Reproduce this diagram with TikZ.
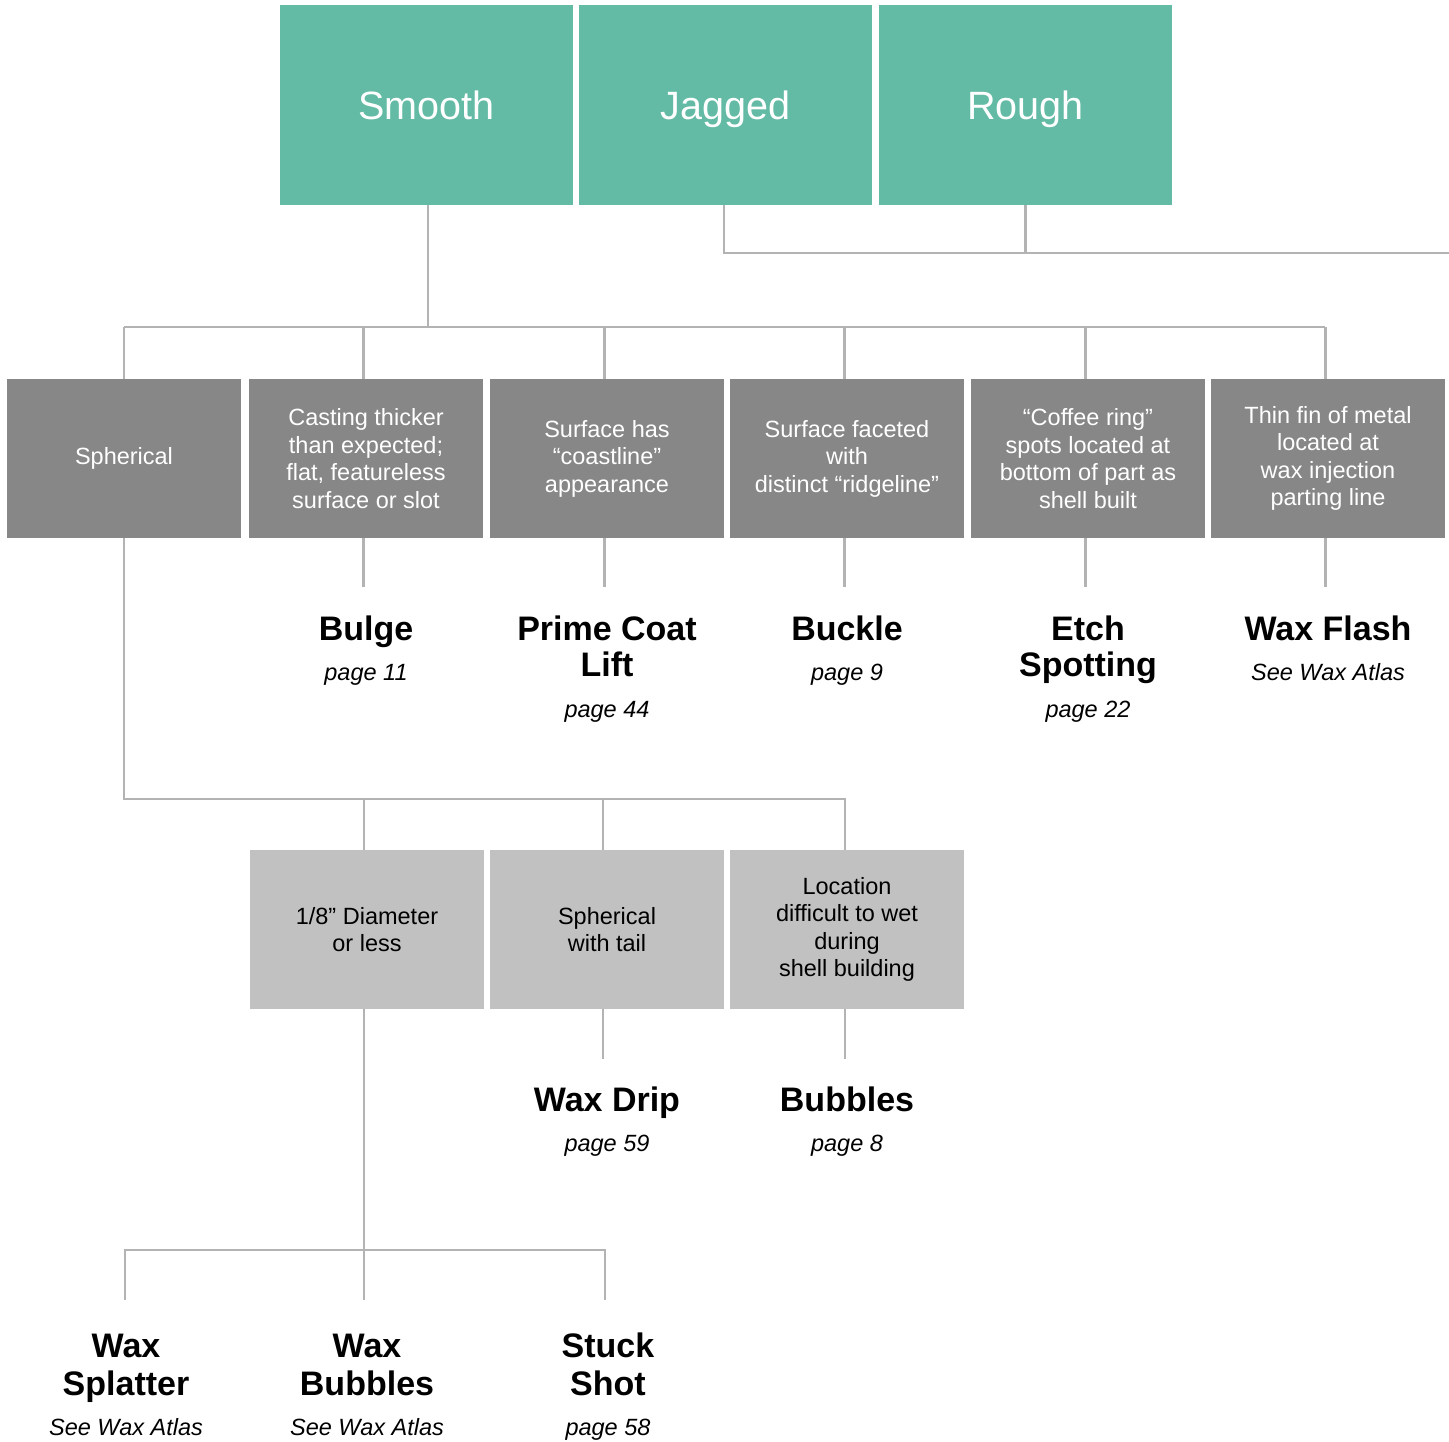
\documentclass[tikz,border=0pt]{standalone}
\usepackage{fontspec}
\setmainfont{Liberation Sans}
\definecolor{teal1}{HTML}{63BBA5}
\definecolor{dgray}{HTML}{878787}
\definecolor{lgray}{HTML}{C1C1C1}
\definecolor{linec}{HTML}{B3B3B3}
\begin{document}
\begin{tikzpicture}[x=1pt,y=-1pt,
  topbox/.style={fill=teal1, minimum width=293pt, minimum height=200pt, inner sep=0pt, text height=28.4pt, text depth=0pt, text=white, font=\fontsize{39.5}{44}\selectfont},
  dbox/.style={fill=dgray, minimum width=234pt, minimum height=159pt, inner sep=0pt, text=white, align=center, font=\fontsize{23.5}{27.5}\selectfont},
  lbox/.style={fill=lgray, minimum width=234pt, minimum height=159pt, inner sep=0pt, text=black, align=center, font=\fontsize{23.5}{27.5}\selectfont},
  conn/.style={draw=linec, line width=2.2pt},
  ttl/.style={anchor=base, inner sep=0pt, font=\fontsize{34}{36}\selectfont\bfseries},
  pg/.style={anchor=base, inner sep=0pt, font=\fontsize{23.5}{28}\selectfont\itshape}]
\useasboundingbox (0,0) rectangle (1449,1441);

% top row
\node[topbox] (smooth) at (426.5,105) {Smooth};
\node[topbox] (jagged) at (725.5,105) {Jagged};
\node[topbox] (rough) at (1025.5,105) {Rough};

% second row
\node[dbox] (sph) at (124,458.5) {Spherical};
\node[dbox] (cast) at (366,458.5) {Casting thicker\\than expected;\\flat, featureless\\surface or slot};
\node[dbox] (coast) at (607,458.5) {Surface has\\“coastline”\\appearance};
\node[dbox] (facet) at (847,458.5) {Surface faceted\\with\\distinct “ridgeline”};
\node[dbox] (coffee) at (1088,458.5) {“Coffee ring”\\spots located at\\bottom of part as\\shell built};
\node[dbox] (fin) at (1328,458.5) {Thin fin of metal\\located at\\wax injection\\parting line};

% third row
\node[lbox] (diam) at (367,929.5) {1/8” Diameter\\or less};
\node[lbox] (tail) at (607,929.5) {Spherical\\with tail};
\node[lbox] (loc) at (847,929.5) {Location\\difficult to wet\\during\\shell building};

% coordinates
\coordinate (bus1) at (0,327);
\coordinate (bus0) at (1449,253);
\coordinate (bus2) at (0,799);
\coordinate (bus3) at (0,1250);
\coordinate (st1) at (0,587);
\coordinate (st2) at (0,1059);
\coordinate (st3) at (0,1300);

% connectors top
\draw[conn] ([xshift=1.5pt]smooth.south) -- ([xshift=1.5pt]smooth.south |- bus1);
\draw[conn] (sph.north |- bus1) -- ([xshift=-3pt]fin.north |- bus1);
\draw[conn] (sph.north |- bus1) -- (sph.north);
\foreach \n in {cast,coast,facet,coffee,fin}
  \draw[conn] ([xshift=-2.5pt]\n.north |- bus1) -- ([xshift=-2.5pt]\n.north);
\draw[conn] ([xshift=-1.5pt]jagged.south) -- ([xshift=-1.5pt]jagged.south |- bus0) -- (bus0);
\draw[conn] (rough.south) -- (rough.south |- bus0);

% stubs row 2
\foreach \n in {cast,coast,facet,coffee,fin}
  \draw[conn] ([xshift=-2.5pt]\n.south) -- ([xshift=-2.5pt]\n.south |- st1);

% spherical branch
\draw[conn] (sph.south) -- (sph.south |- bus2) -- ([xshift=-2pt]loc.north |- bus2) -- ([xshift=-2pt]loc.north);
\draw[conn] ([xshift=-3pt]diam.north |- bus2) -- ([xshift=-3pt]diam.north);
\draw[conn] ([xshift=-4pt]tail.north |- bus2) -- ([xshift=-4pt]tail.north);

% stubs row 3
\draw[conn] ([xshift=-4pt]tail.south) -- ([xshift=-4pt]tail.south |- st2);
\draw[conn] ([xshift=-2pt]loc.south) -- ([xshift=-2pt]loc.south |- st2);

% diameter branch
\coordinate (cL) at (125,1250);
\coordinate (cR) at (605,1250);
\draw[conn] ([xshift=-3pt]diam.south) -- ([xshift=-3pt]diam.south |- st3);
\draw[conn] (cL |- st3) -- (cL) -- (cR) -- (cR |- st3);

% labels row 2
\node[ttl] (bulge) at (366,640) {Bulge};
\node[pg] (bulgep) at (366,680) {page 11};
\node[ttl] (prime1) at (607,640) {Prime Coat};
\node[ttl] (prime2) at (607,676) {Lift};
\node[pg] (primep) at (607,717) {page 44};
\node[ttl] (buckle) at (847,640) {Buckle};
\node[pg] (bucklep) at (847,680) {page 9};
\node[ttl] (etch1) at (1088,640) {Etch};
\node[ttl] (etch2) at (1088,676) {Spotting};
\node[pg] (etchp) at (1088,717) {page 22};
\node[ttl] (flash) at (1328,640) {Wax Flash};
\node[pg] (flashp) at (1328,680) {See Wax Atlas};

% labels row 3
\node[ttl] (drip) at (607,1111) {Wax Drip};
\node[pg] (dripp) at (607,1151) {page 59};
\node[ttl] (bub) at (847,1111) {Bubbles};
\node[pg] (bubp) at (847,1151) {page 8};

% bottom labels
\node[ttl] (spl1) at (126,1357) {Wax};
\node[ttl] (spl2) at (126,1395) {Splatter};
\node[pg] (splp) at (126,1435) {See Wax Atlas};
\node[ttl] (wb1) at (367,1357) {Wax};
\node[ttl] (wb2) at (367,1395) {Bubbles};
\node[pg] (wbp) at (367,1435) {See Wax Atlas};
\node[ttl] (ss1) at (608,1357) {Stuck};
\node[ttl] (ss2) at (608,1395) {Shot};
\node[pg] (ssp) at (608,1435) {page 58};
\end{tikzpicture}
\end{document}
